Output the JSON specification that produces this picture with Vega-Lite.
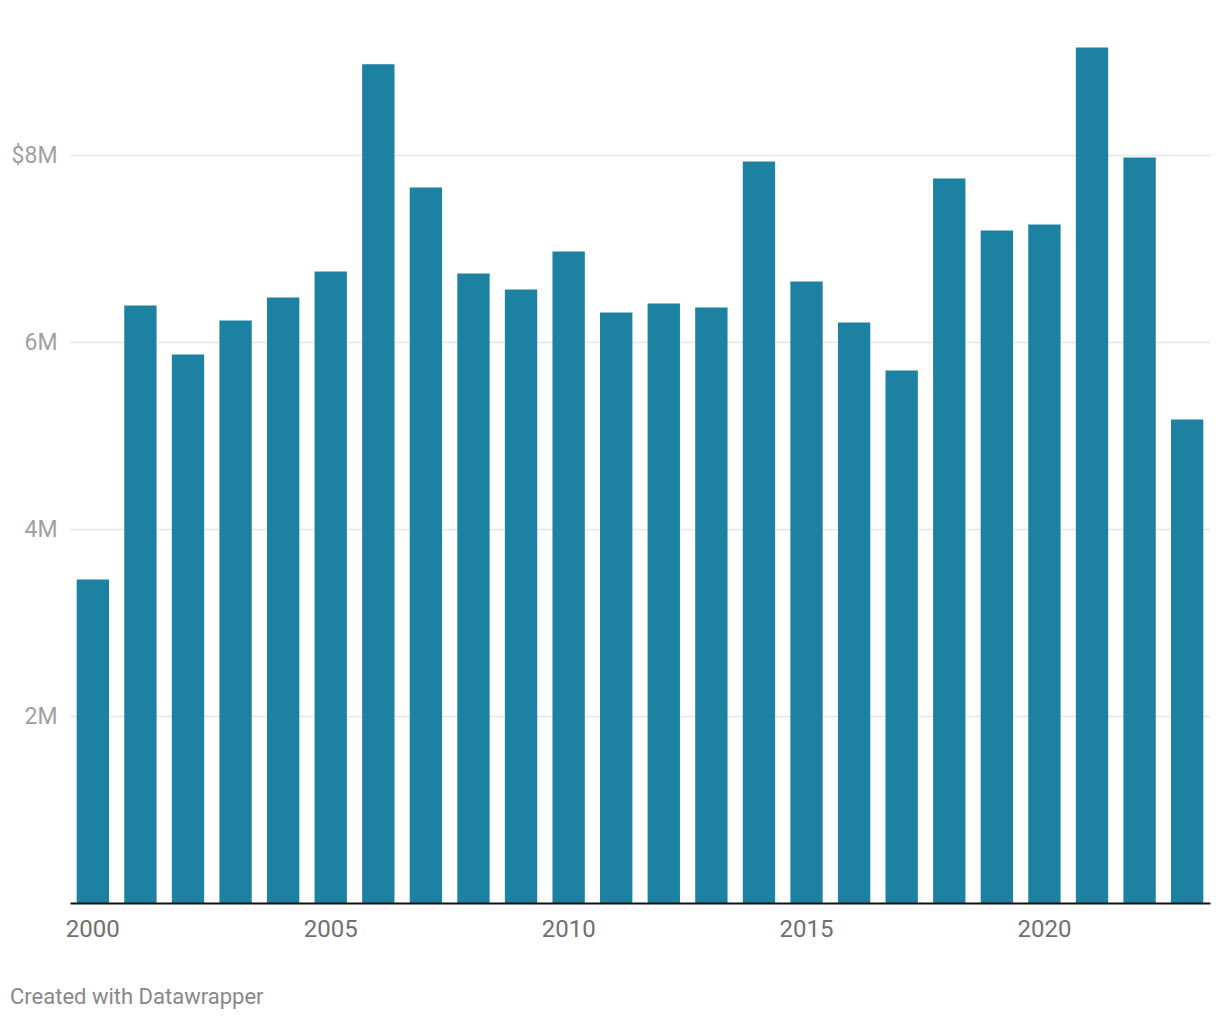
{
  "$schema": "https://vega.github.io/schema/vega-lite/v6.json",
  "autosize": "none",
  "width": 1140,
  "height": 893,
  "padding": {"left": 70, "top": 10, "right": 10, "bottom": 117},
  "background": "white",
  "config": {
    "font": "Roboto",
    "view": {"stroke": null}
  },
  "title": {
    "text": "Created with Datawrapper",
    "orient": "bottom",
    "anchor": "start",
    "frame": "group",
    "dx": -60,
    "offset": 46,
    "baseline": "top",
    "fontSize": 22,
    "fontWeight": "normal",
    "color": "#888888",
    "font": "Roboto"
  },
  "data": {
    "values": [
      {"year": 2000, "value": 3458000},
      {"year": 2001, "value": 6386000},
      {"year": 2002, "value": 5862000},
      {"year": 2003, "value": 6225000},
      {"year": 2004, "value": 6471000},
      {"year": 2005, "value": 6749000},
      {"year": 2006, "value": 8964000},
      {"year": 2007, "value": 7647000},
      {"year": 2008, "value": 6728000},
      {"year": 2009, "value": 6557000},
      {"year": 2010, "value": 6963000},
      {"year": 2011, "value": 6311000},
      {"year": 2012, "value": 6407000},
      {"year": 2013, "value": 6365000},
      {"year": 2014, "value": 7925000},
      {"year": 2015, "value": 6643000},
      {"year": 2016, "value": 6204000},
      {"year": 2017, "value": 5691000},
      {"year": 2018, "value": 7743000},
      {"year": 2019, "value": 7188000},
      {"year": 2020, "value": 7252000},
      {"year": 2021, "value": 9144000},
      {"year": 2022, "value": 7968000},
      {"year": 2023, "value": 5168000}
    ]
  },
  "mark": {"type": "bar", "color": "#1d81a2"},
  "encoding": {
    "x": {
      "field": "year",
      "type": "ordinal",
      "scale": {"paddingInner": 0.32, "paddingOuter": 0.14},
      "axis": {
        "title": null,
        "labelAngle": 0,
        "labelExpr": "datum.value % 5 == 0 ? datum.label : ''",
        "ticks": false,
        "labelPadding": 14,
        "labelFontSize": 24,
        "labelColor": "#707070",
        "labelFont": "Roboto",
        "domainColor": "#111111",
        "domainWidth": 2,
        "zindex": 1,
        "labelBaseline": "top"
      }
    },
    "y": {
      "field": "value",
      "type": "quantitative",
      "scale": {"domain": [0, 9545000], "nice": false, "zero": true},
      "axis": {
        "title": null,
        "values": [2000000, 4000000, 6000000, 8000000],
        "labelExpr": "datum.value == 8000000 ? '$8M' : format(datum.value / 1000000, 'd') + 'M'",
        "ticks": false,
        "domain": false,
        "labelPadding": 13,
        "labelFontSize": 23,
        "labelColor": "#a0a0a0",
        "labelFont": "Roboto",
        "gridColor": "#e6e6e6",
        "gridWidth": 1.5,
        "labelBaseline": "middle",
        "labelOffset": 1
      }
    }
  }
}
